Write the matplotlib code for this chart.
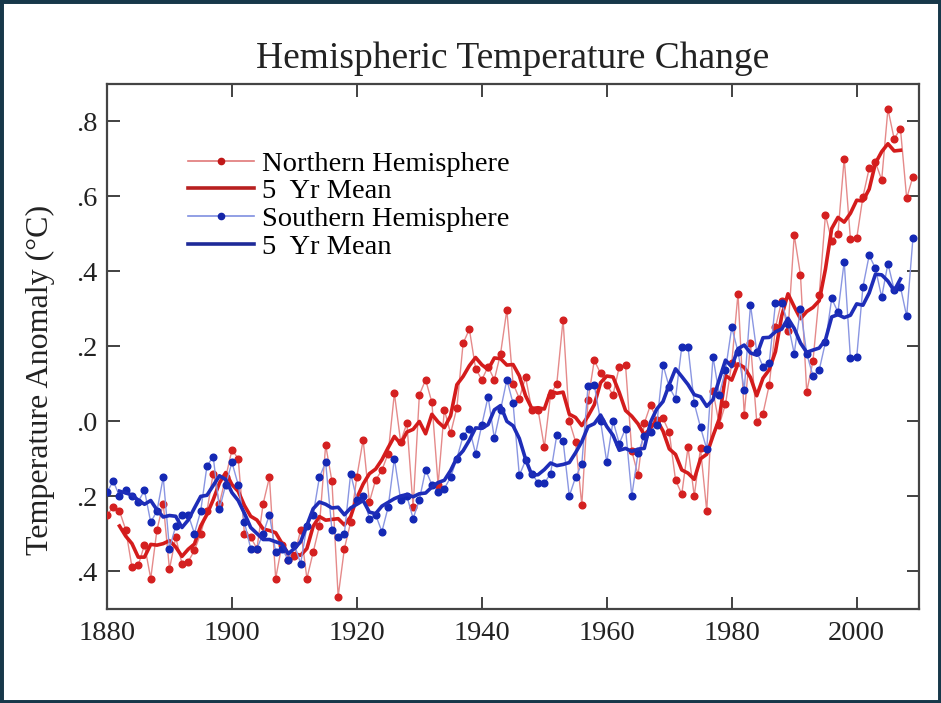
import numpy as np
import pandas as pd
import matplotlib
matplotlib.use("Agg")
import matplotlib.pyplot as plt
from matplotlib.lines import Line2D
from matplotlib.patches import Rectangle

# annual hemispheric anomalies (deg C)
years = np.arange(1880, 2010)
north = [
    -0.25, -0.23, -0.24, -0.29, -0.39, -0.385, -0.33, -0.42, -0.29, -0.22,
    -0.395, -0.31, -0.38, -0.375, -0.345, -0.30, -0.24, -0.14, -0.22, -0.15,
    -0.077, -0.10, -0.30, -0.31, -0.34, -0.22, -0.15, -0.42, -0.33, -0.37,
    -0.36, -0.29, -0.42, -0.35, -0.28, -0.064, -0.16, -0.468, -0.34, -0.27,
    -0.148, -0.05, -0.216, -0.157, -0.131, -0.087, 0.074, -0.055, -0.006, -0.23,
    0.07, 0.11, 0.05, -0.17, 0.03, -0.033, 0.035, 0.207, 0.245, 0.14,
    0.11, 0.145, 0.11, 0.18, 0.296, 0.10, 0.06, 0.117, 0.03, 0.03,
    -0.07, 0.07, 0.10, 0.27, 0.0, -0.055, -0.224, 0.056, 0.162, 0.127,
    0.096, 0.07, 0.145, 0.149, -0.08, -0.144, -0.006, 0.043, 0.003, 0.007,
    -0.03, -0.157, -0.195, -0.07, -0.20, -0.073, -0.24, 0.08, -0.01, 0.045,
    0.154, 0.34, 0.016, 0.207, -0.002, 0.02, 0.096, 0.25, 0.32, 0.24,
    0.496, 0.39, 0.078, 0.16, 0.336, 0.55, 0.48, 0.50, 0.70, 0.485,
    0.487, 0.598, 0.674, 0.69, 0.643, 0.832, 0.752, 0.78, 0.594, 0.652,
]
south = [
    -0.19, -0.16, -0.20, -0.185, -0.20, -0.215, -0.185, -0.27, -0.24, -0.15,
    -0.34, -0.28, -0.25, -0.25, -0.30, -0.24, -0.12, -0.095, -0.235, -0.17,
    -0.11, -0.17, -0.27, -0.34, -0.34, -0.30, -0.25, -0.35, -0.34, -0.37,
    -0.33, -0.38, -0.28, -0.25, -0.15, -0.11, -0.29, -0.31, -0.30, -0.14,
    -0.21, -0.20, -0.26, -0.25, -0.295, -0.23, -0.10, -0.21, -0.20, -0.26,
    -0.21, -0.13, -0.17, -0.19, -0.18, -0.15, -0.10, -0.04, -0.02, -0.087,
    -0.01, 0.065, -0.046, 0.03, 0.11, 0.047, -0.145, -0.105, -0.14, -0.165,
    -0.166, -0.14, -0.037, -0.052, -0.20, -0.15, -0.115, 0.094, 0.096, 0.0,
    -0.11, 0.0, -0.06, -0.02, -0.20, -0.085, -0.04, -0.03, -0.01, 0.15,
    0.09, 0.06, 0.198, 0.198, 0.047, -0.017, -0.075, 0.171, 0.07, 0.136,
    0.25, 0.185, 0.083, 0.31, 0.185, 0.145, 0.155, 0.315, 0.315, 0.26,
    0.18, 0.30, 0.18, 0.12, 0.136, 0.21, 0.327, 0.29, 0.425, 0.167,
    0.17, 0.358, 0.442, 0.407, 0.33, 0.42, 0.35, 0.358, 0.279, 0.487,
]

year_ticks = [1880, 1900, 1920, 1940, 1960, 1980, 2000]
temp_ticks = [-0.4, -0.2, 0.0, 0.2, 0.4, 0.6, 0.8]
temp_labels = [".4", ".2", ".0", ".2", ".4", ".6", ".8"]

# 5 year running means
north_mean = pd.Series(north, index=years).rolling(5, center=True).mean()
south_mean = pd.Series(south, index=years).rolling(5, center=True).mean()

plt.rcParams["font.family"] = ["Liberation Serif", "DejaVu Serif"]

fig = plt.figure(figsize=(9.41, 7.03), dpi=100)
ax = fig.add_axes([0.1137, 0.1344, 0.8631, 0.7468])

ax.plot(years, north, "-", color="#e58a8a", lw=1.0, zorder=2)
ax.plot(years, north, "o", color="#d42020", ms=4.8, zorder=3)
ax.plot(north_mean.index, north_mean.values, "-", color="#d41c1c", lw=2.6,
        zorder=4)
ax.plot(years, south, "-", color="#8a96e2", lw=1.0, zorder=5)
ax.plot(years, south, "o", color="#1428b4", ms=4.8, zorder=6)
ax.plot(south_mean.index, south_mean.values, "-", color="#1e2db8", lw=2.6,
        zorder=7)

# legend handles: thin line + dot for the annual series
handles = [
    Line2D([], [], color="#e07878", lw=1.2, marker="o", ms=4.5,
           mfc="#c01818", mec="#c01818"),
    Line2D([], [], color="#b82020", lw=2.6),
    Line2D([], [], color="#7f8fe0", lw=1.2, marker="o", ms=4.5,
           mfc="#1424a8", mec="#1424a8"),
    Line2D([], [], color="#1e2a98", lw=2.6),
]
labels = ["Northern Hemisphere", "5  Yr Mean", "Southern Hemisphere",
          "5  Yr Mean"]
ax.legend(handles, labels, loc="upper left", bbox_to_anchor=(0.1, 0.872),
          frameon=False, fontsize=20.5, handlelength=2.3, handletextpad=0.3,
          borderpad=0, borderaxespad=0, labelspacing=0.06, numpoints=1)

ax.set_xlim(1880, 2010)
ax.set_ylim(-0.5, 0.9)
ax.set_xticks(year_ticks)
ax.set_xticklabels([str(y) for y in year_ticks])
ax.set_yticks(temp_ticks)
ax.set_yticklabels(temp_labels)
ax.tick_params(direction="in", length=9, width=1.3, top=True, right=True,
               labelsize=20.5, colors="#333333", labelcolor="#222222")
ax.tick_params(axis="x", pad=9)
ax.tick_params(axis="y", pad=7)
for s in ax.spines.values():
    s.set_linewidth(1.6)
    s.set_color("#444444")

ax.set_ylabel("Temperature Anomaly (\u00b0C)", fontsize=23, color="#222222")
ax.yaxis.set_label_coords(-0.064, 0.435)
fig.text(0.545, 0.916, "Hemispheric Temperature Change", ha="center",
         va="center", fontsize=27, color="#222222")

# dark frame around the picture
fig.patches.append(Rectangle((0, 0), 1, 1, transform=fig.transFigure,
                             fill=False, edgecolor="#17384a", lw=5))

fig.savefig("out.png", dpi=100)
